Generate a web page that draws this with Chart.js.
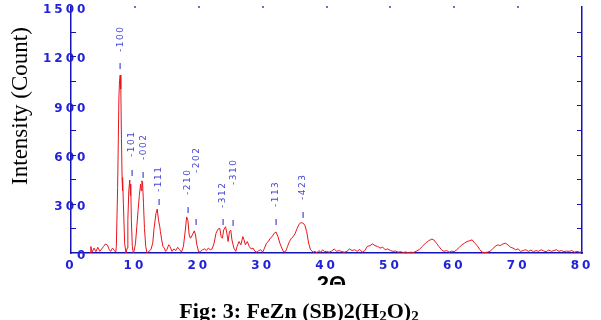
<!DOCTYPE html>
<html>
<head>
<meta charset="utf-8">
<script src="https://cdn.jsdelivr.net/npm/chart.js@4"></script>
<style>
  body { margin: 0; background: #fff; }
  canvas { display: block; }
</style>
</head>
<body>
<canvas id="xrdChart" width="601" height="320"></canvas>
<script>
// XRD pattern (2 theta in degrees, intensity in counts)
const twoTheta = [
  3.0, 3.1, 3.3, 3.6, 3.9, 4.2, 4.5, 4.8, 5.1, 5.4, 5.7, 6.0, 6.2, 6.5, 6.8, 7.0,
  7.1, 7.3, 7.5, 7.6, 7.7, 7.8, 7.9, 8.0, 8.05, 8.1, 8.2, 8.4, 8.6, 8.8,
  8.9, 9.05, 9.2, 9.3, 9.35, 9.45, 9.6, 9.75, 9.9, 10.1, 10.3, 10.5, 10.7, 10.9, 11.0, 11.1, 11.2, 11.35, 11.5, 11.7, 11.9,
  12.2, 12.5, 12.8, 13.0, 13.3, 13.5, 13.7, 13.9, 14.0, 14.2, 14.4, 14.6, 14.8, 15.0, 15.3, 15.5, 15.8, 16.1, 16.4, 16.7, 17.0, 17.3,
  17.6, 17.9, 18.1, 18.3, 18.5, 18.7, 19.0, 19.3, 19.5, 19.7, 20.0, 20.3, 20.6, 20.9, 21.2, 21.5, 21.8, 22.1,
  22.4, 22.7, 23.0, 23.3, 23.5, 23.7, 23.9, 24.2, 24.4, 24.6, 24.8, 25.0, 25.2, 25.5, 25.8, 26.0, 26.3, 26.6, 26.9, 27.1, 27.3, 27.6, 27.9,
  28.2, 28.5, 28.8, 29.1, 29.4, 29.7, 30.0, 30.3, 30.6, 30.9, 31.2, 31.5, 31.8, 32.1, 32.4, 32.7, 33.0, 33.3,
  33.6, 33.9, 34.2, 34.5, 34.8, 35.1, 35.4, 35.7, 36.0, 36.3, 36.6, 36.9, 37.2, 37.5, 37.9,
  38.2, 38.5, 38.8, 39.1, 39.4, 39.7, 40.0, 40.4, 40.8, 41.2, 41.6, 42.0, 42.4, 42.8, 43.2, 43.6, 44.0, 44.4, 44.8, 45.2, 45.6, 46.0,
  46.4, 46.8, 47.2, 47.6, 48.0, 48.4, 48.8, 49.2, 49.6, 50.0, 50.4, 50.8, 51.2, 51.6, 52.0, 52.4, 52.8, 53.2, 53.6, 54.0,
  54.5, 55.0, 55.5, 56.0, 56.5, 56.8, 57.2, 57.6, 58.0, 58.4, 58.8, 59.2, 59.6, 60.0,
  60.4, 60.8, 61.2, 61.6, 62.0, 62.4, 62.8, 63.2, 63.6, 64.0, 64.4, 64.8, 65.2, 65.6,
  66.0, 66.4, 66.8, 67.2, 67.6, 68.0, 68.4, 68.8, 69.2, 69.6, 70.0, 70.4, 70.8, 71.2, 71.6, 72.0, 72.4, 72.8,
  73.2, 73.6, 74.0, 74.4, 74.8, 75.2, 75.6, 76.0, 76.4, 76.8, 77.2, 77.6, 78.0, 78.4, 78.8, 79.2, 79.6, 80.0
];
const counts = [
  0, 40, 5, 30, 8, 35, 10, 25, 40, 55, 48, 20, 10, 30, 15, 5,
  40, 400, 950, 1050, 1085, 1000, 700, 450, 380, 460, 300, 60, 0, 30,
  200, 380, 445, 350, 420, 200, 40, 0, 15, 60, 160, 260, 350, 420, 380, 440, 433, 300, 150, 40, 0,
  10, 20, 60, 150, 240, 268, 200, 160, 130, 80, 40, 30, 10, 20, 50, 40, 10, 25, 15, 35, 20, 5,
  40, 140, 220, 200, 110, 90, 110, 135, 110, 50, 5, 10, 20, 25, 15, 30, 20, 25,
  60, 120, 145, 150, 100, 90, 140, 160, 120, 70, 130, 140, 80, 30, 10, 40, 70, 50, 100, 80, 50, 70, 40,
  25, 30, 10, 5, 15, 20, 5, 30, 60, 70, 90, 100, 120, 128, 100, 60, 30, 5,
  10, 40, 70, 90, 100, 120, 150, 175, 185, 183, 170, 130, 60, 20, 5,
  10, 2, 15, 5, 20, 8, 10, 5, 12, 25, 10, 15, 8, 5, 10, 25, 15, 20, 10, 22, 5, 15,
  40, 45, 55, 45, 40, 30, 35, 20, 25, 15, 10, 12, 5, 8, 3, 6, 2, 5, 3, 10,
  20, 40, 60, 75, 85, 80, 60, 40, 20, 10, 15, 5, 12, 8,
  20, 35, 50, 60, 70, 75, 80, 60, 45, 20, 5, 3, 5, 10,
  25, 40, 50, 45, 55, 60, 50, 35, 30, 20, 25, 10, 15, 20, 10, 18, 8, 15,
  10, 20, 12, 8, 18, 10, 15, 20, 10, 15, 8, 12, 10, 15, 5, 10, 5, 8
];

const xTicks = [0, 10, 20, 30, 40, 50, 60, 70, 80];
const yTicks = [0, 300, 600, 900, 1200, 1500];

// Miller index annotations
const peakLabels = ['-100', '-101', '-002', '-111', '-210', '-202', '-312', '-310', '-113', '-423'];
const peakTheta = [7.7, 9.5, 11.3, 13.8, 18.3, 19.6, 23.8, 25.4, 32.1, 36.3];
const peakTickCount = [1140, 488, 476, 311, 262, 189, 189, 183, 189, 232];
const peakTextCount = [1226, 585, 567, 372, 354, 488, 274, 415, 280, 323];

const AXIS_BLUE = '#1414b4';
const LABEL_BLUE = '#2222d8';

const decorations = {
  id: 'decorations',
  beforeDraw(chart) {
    chart.ctx.letterSpacing = '3px';
  },
  afterDatasetsDraw(chart) {
    const { ctx, scales: { x, y } } = chart;
    ctx.save();
    ctx.fillStyle = '#4646d6';
    ctx.font = '9px "DejaVu Sans"';
    ctx.letterSpacing = '1.5px';
    peakLabels.forEach((lab, i) => {
      const px = x.getPixelForValue(peakTheta[i]);
      const ty = y.getPixelForValue(peakTickCount[i]);
      ctx.fillRect(Math.round(px) - 0.5, ty - 3, 1.2, 6);
      const by = y.getPixelForValue(peakTextCount[i]);
      ctx.save();
      ctx.translate(px, by);
      ctx.rotate(-Math.PI / 2);
      ctx.textAlign = 'left';
      ctx.textBaseline = 'middle';
      ctx.fillText(lab, 0, 0);
      ctx.restore();
    });
    ctx.restore();
  },
  afterDraw(chart) {
    const { ctx, chartArea: a, scales: { x, y } } = chart;
    ctx.save();
    ctx.letterSpacing = '0px';

    // inward ticks on both vertical axes, every 150 counts
    ctx.strokeStyle = AXIS_BLUE;
    ctx.lineWidth = 1.2;
    for (let v = 150; v < 1500; v += 150) {
      const py = Math.round(y.getPixelForValue(v)) + 0.5;
      ctx.beginPath();
      ctx.moveTo(a.left, py); ctx.lineTo(a.left + 5, py);
      ctx.moveTo(a.right, py); ctx.lineTo(a.right - 5, py);
      ctx.stroke();
    }
    // small dots along the top edge
    ctx.fillStyle = '#6a6ad8';
    xTicks.slice(1, -1).forEach(v => {
      ctx.fillRect(Math.round(x.getPixelForValue(v)) - 1, a.top - 1, 2, 2);
    });

    // y title
    ctx.fillStyle = '#000';
    ctx.font = '23px "Liberation Serif"';
    ctx.textAlign = 'center';
    ctx.textBaseline = 'alphabetic';
    ctx.save();
    ctx.translate(27, 106);
    ctx.rotate(-Math.PI / 2);
    ctx.fillText('Intensity (Count)', 0, 0);
    ctx.restore();

    // x title, cut off at the bottom like the original
    ctx.save();
    ctx.beginPath();
    ctx.rect(280, 268, 100, 17);
    ctx.clip();
    ctx.font = 'bold 22px "Liberation Sans"';
    ctx.textBaseline = 'top';
    ctx.fillText('2\u0398', (a.left + a.right) / 2 + 5, 274);
    ctx.restore();

    // caption with subscripts
    const parts = [
      ['Fig: 3: FeZn (SB)2(H', false], ['2', true], ['O)', false], ['2', true]
    ];
    const big = 'bold 22px "Liberation Serif"';
    const small = 'bold 15px "Liberation Serif"';
    let total = 0;
    parts.forEach(([t, sub]) => { ctx.font = sub ? small : big; total += ctx.measureText(t).width; });
    let cx = 299 - total / 2;
    ctx.textAlign = 'left';
    parts.forEach(([t, sub]) => {
      ctx.font = sub ? small : big;
      ctx.fillText(t, cx, sub ? 321 : 318);
      cx += ctx.measureText(t).width;
    });
    ctx.restore();
  }
};

const ctx = document.getElementById('xrdChart').getContext('2d');
const xrdChart = new Chart(ctx, {
  type: 'line',
  data: {
    datasets: [{
      label: 'FeZn (SB)2(H2O)2',
      data: twoTheta.map((t, i) => ({ x: t, y: counts[i] })),
      borderColor: '#e8141c',
      borderWidth: 1,
      pointRadius: 0,
      tension: 0,
      fill: false
    }]
  },
  options: {
    responsive: false,
    animation: false,
    layout: { padding: { left: 0, top: 7, right: 19, bottom: 0 } },
    plugins: {
      legend: { display: false },
      tooltip: { enabled: false }
    },
    scales: {
      x: {
        type: 'linear',
        min: 0,
        max: 80,
        z: 1,
        afterBuildTicks: s => { s.ticks = xTicks.map(v => ({ value: v })); },
        afterFit: s => { s.height = 67; },
        grid: { display: false, drawTicks: false },
        border: { color: AXIS_BLUE, width: 1.5 },
        ticks: {
          color: LABEL_BLUE,
          padding: 6,
          maxRotation: 0,
          autoSkip: false,
          font: { family: 'DejaVu Sans', size: 12, weight: 'bold' }
        }
      },
      y: {
        min: 0,
        max: 1500,
        z: 1,
        afterBuildTicks: s => { s.ticks = yTicks.map(v => ({ value: v })); },
        afterFit: s => { s.width = 71; },
        grid: { display: false, drawTicks: false },
        border: { color: AXIS_BLUE, width: 1.5 },
        ticks: {
          color: LABEL_BLUE,
          mirror: true,
          crossAlign: 'far',
          padding: -16,
          labelOffset: 3,
          autoSkip: false,
          callback: v => String(v),
          font: { family: 'DejaVu Sans', size: 12, weight: 'bold' }
        }
      },
      yRight: {
        position: 'right',
        min: 0,
        max: 1500,
        z: 1,
        afterFit: s => { s.width = 0; },
        grid: { display: false, drawTicks: false },
        border: { color: AXIS_BLUE, width: 1.5 },
        ticks: { display: false }
      }
    }
  },
  plugins: [decorations]
});
</script>
</body>
</html>
